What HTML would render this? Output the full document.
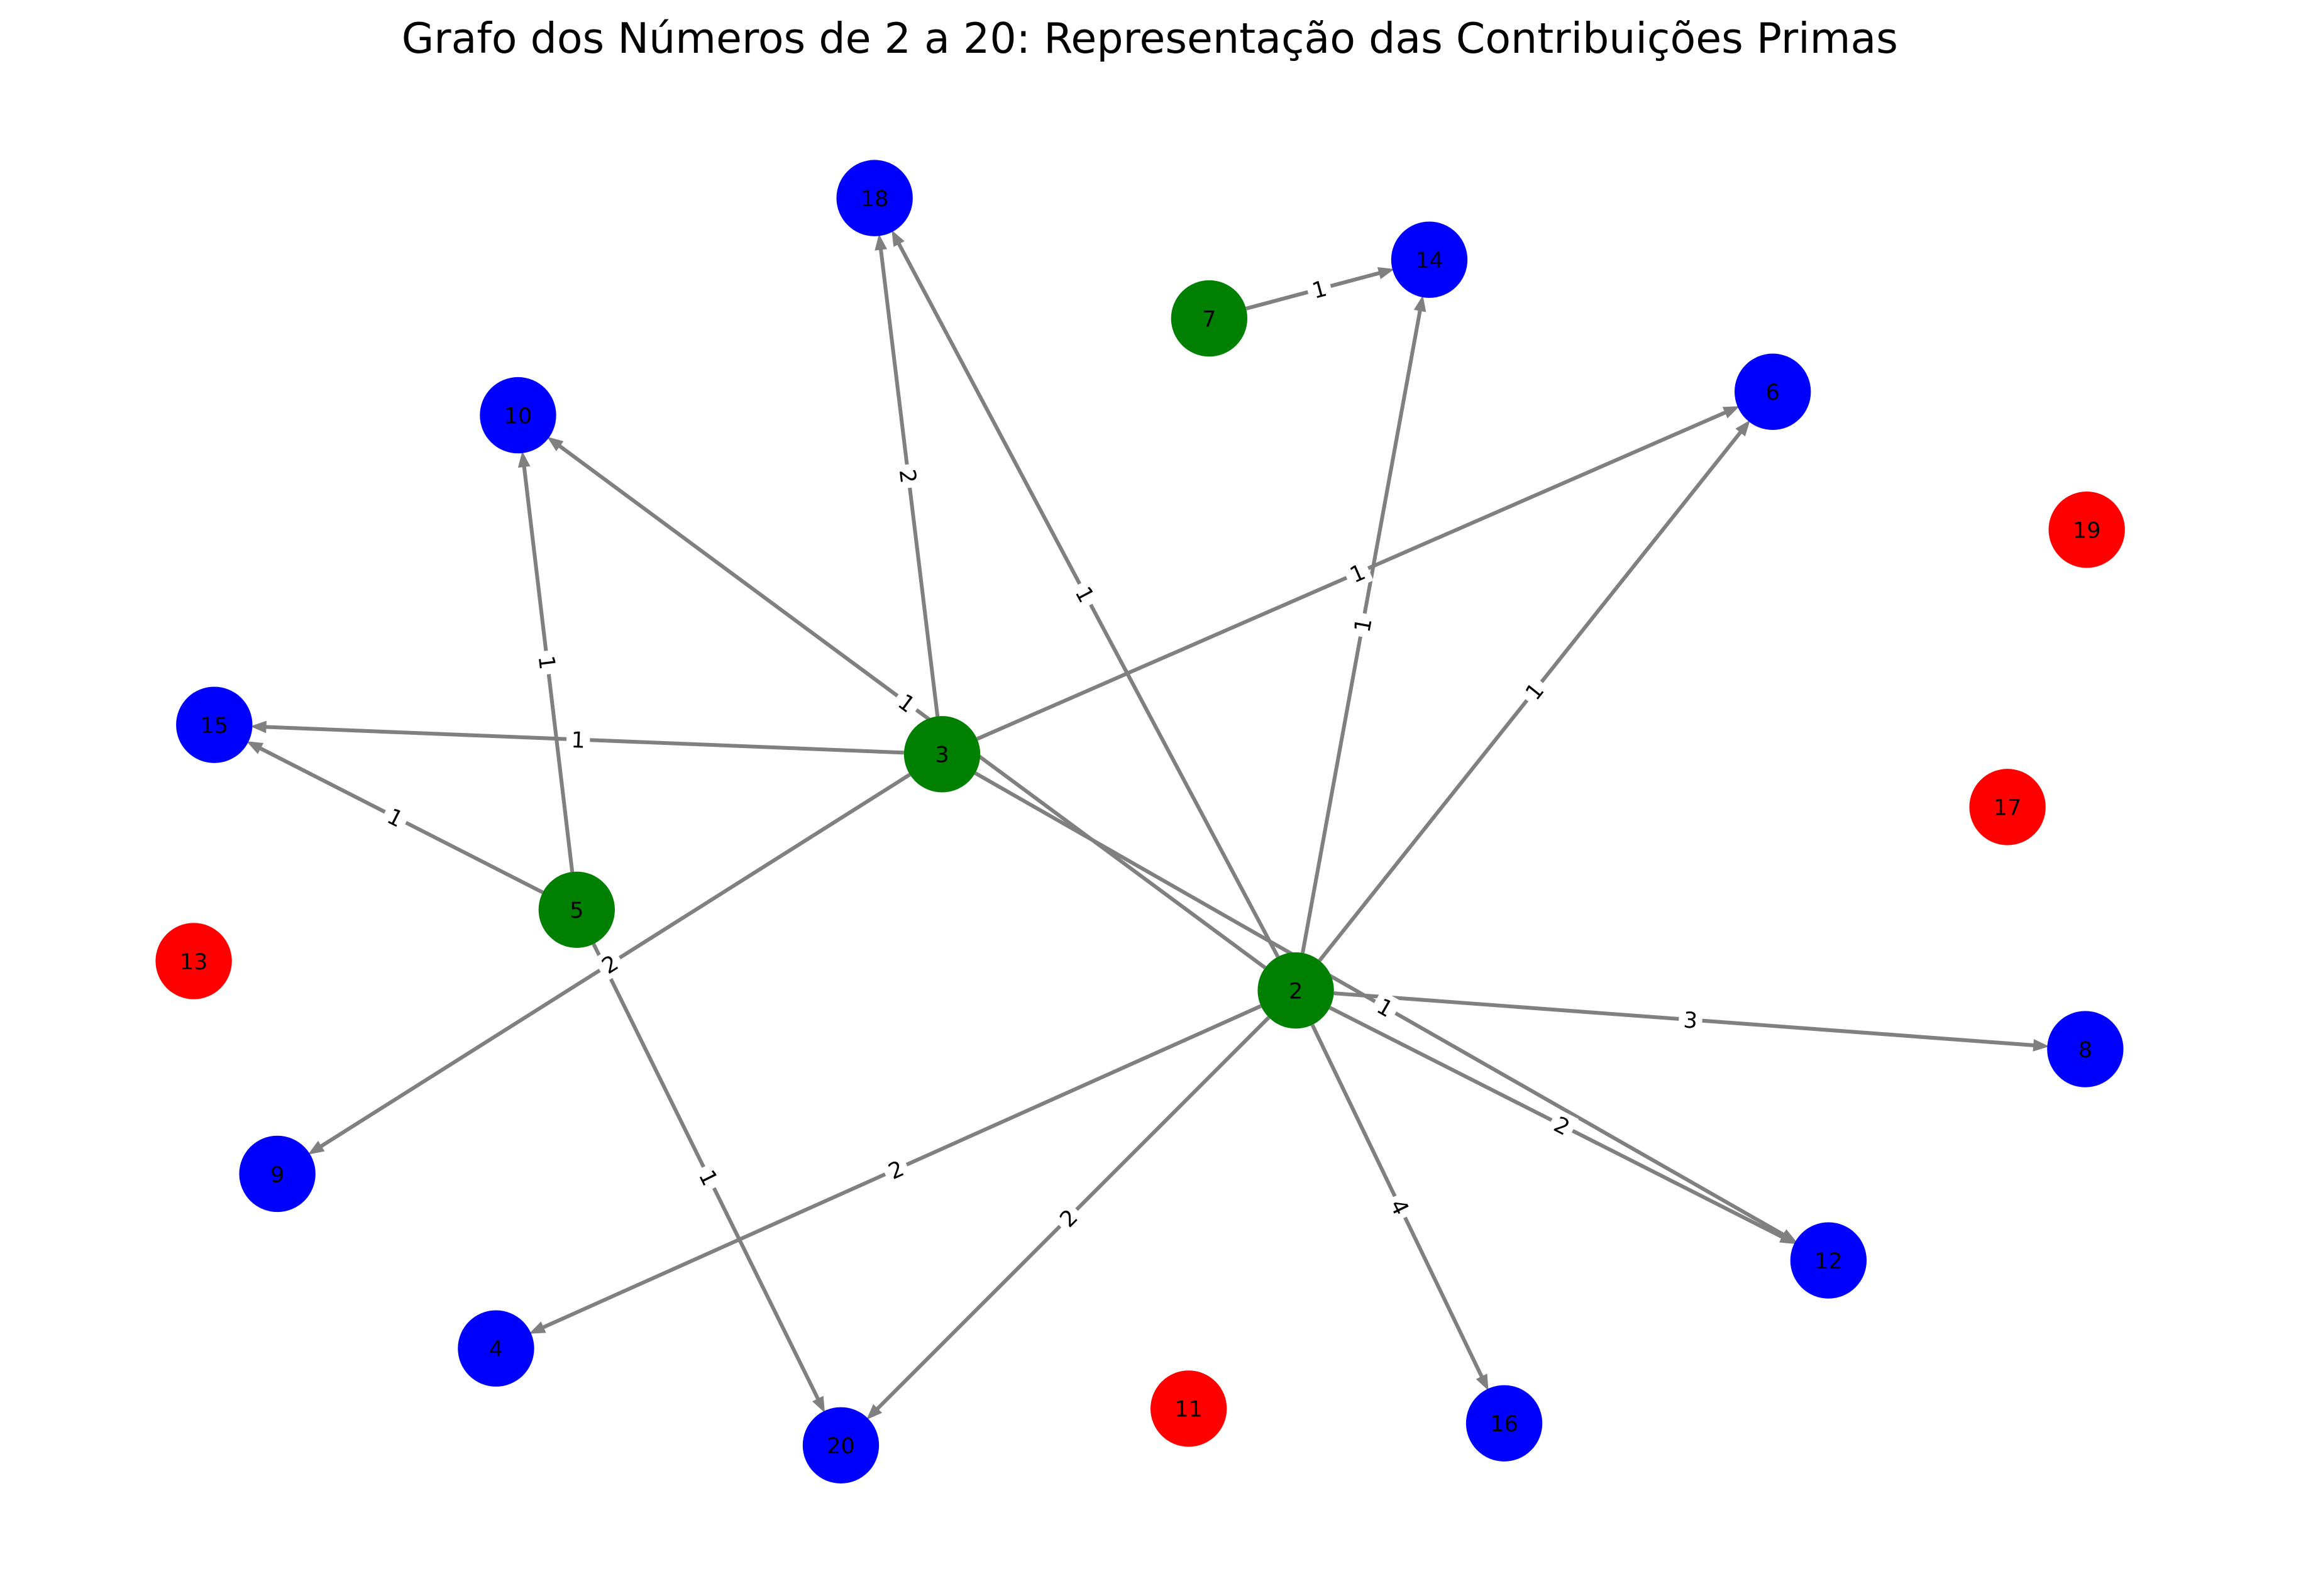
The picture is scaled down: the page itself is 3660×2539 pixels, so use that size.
<!DOCTYPE html>
<html><head><meta charset="utf-8"><style>
html,body{margin:0;padding:0;background:#fff;}
svg{display:block;}
text{font-family:"DejaVu Sans","Liberation Sans",sans-serif;}
</style></head><body>
<svg id="chart" width="3660" height="2539" viewBox="0 0 1568 1087.7" preserveAspectRatio="none" xmlns="http://www.w3.org/2000/svg">
<rect width="1568" height="1087.7" fill="#fff"/>
<text x="783.5" y="36" text-anchor="middle" font-size="28.5" fill="#000">Grafo dos Números de 2 a 20: Representação das Contribuições Primas</text>
<g id="edges"></g>
<g id="nodes"></g>
<g id="labels"></g>
</svg>
<script>
const nodeIds = [2,3,5,7,18,14,10,6,19,15,17,13,8,9,12,4,11,16,20];
const nodeX = [883,642,393,824,596,974,353,1208,1422,146,1368,132,1421,189,1246,338,810,1025,573];
const nodeY = [675,514,620,217,135,177,283,267,361,494,550,655,715,800,859,919,960,970,985];
const nodeKind = ['prime','prime','prime','prime','composite','composite','composite','composite','isolated','composite','isolated','isolated','composite','composite','composite','composite','isolated','composite','composite'];
const edgeFrom = [2,2,2,2,2,2,2,2,2,3,3,3,3,3,5,5,5,7];
const edgeTo   = [4,6,8,10,12,14,16,18,20,6,9,12,15,18,10,15,20,14];
const edgeWeight=[2,1,3,1,2,1,4,1,2,1,2,1,1,2,1,1,1,1];

const NS='http://www.w3.org/2000/svg';
const colors={prime:'#008000',composite:'#0000ff',isolated:'#ff0000'};
const R=26;
const eG=document.getElementById('edges'),nG=document.getElementById('nodes'),lG=document.getElementById('labels');
function pos(id){const i=nodeIds.indexOf(id);return [nodeX[i],nodeY[i]];}
for(let k=0;k<edgeFrom.length;k++){
  const [x1,y1]=pos(edgeFrom[k]),[x2,y2]=pos(edgeTo[k]);
  const dx=x2-x1,dy=y2-y1,L=Math.hypot(dx,dy),ux=dx/L,uy=dy/L;
  const ex=x2-ux*R,ey=y2-uy*R,hl=9,hw=3.5;
  const bx=ex-ux*hl,by=ey-uy*hl;
  const line=document.createElementNS(NS,'line');
  
  
  line.setAttribute('x1',x1+ux*R);line.setAttribute('y1',y1+uy*R);
  line.setAttribute('x2',bx+ux*2);line.setAttribute('y2',by+uy*2);
  line.setAttribute('stroke','#808080');line.setAttribute('stroke-width','2.6');
  eG.appendChild(line);
  const head=document.createElementNS(NS,'polygon');
  
  
  head.setAttribute('points',`${ex},${ey} ${bx-uy*hw},${by+ux*hw} ${bx+uy*hw},${by-ux*hw}`);
  head.setAttribute('fill','#808080');head.setAttribute('stroke','#808080');head.setAttribute('stroke-width','1');
  eG.appendChild(head);
  const mx=(x1+x2)/2,my=(y1+y2)/2;
  let ang=Math.atan2(dy,dx)*180/Math.PI;
  if(ang>90)ang-=180; if(ang<-90)ang+=180;
  const g=document.createElementNS(NS,'g');
  g.setAttribute('transform',`translate(${mx},${my}) rotate(${ang})`);
  
  
  const bg=document.createElementNS(NS,'rect');
  bg.setAttribute('x',-8);bg.setAttribute('y',-9);bg.setAttribute('width',16);bg.setAttribute('height',18);bg.setAttribute('fill','#fff');
  g.appendChild(bg);
  const t=document.createElementNS(NS,'text');
  t.setAttribute('text-anchor','middle');t.setAttribute('y','5.5');t.setAttribute('font-size','15');
  t.textContent=edgeWeight[k];
  g.appendChild(t);
  lG.appendChild(g);
}
for(let i=0;i<nodeIds.length;i++){
  const c=document.createElementNS(NS,'circle');
  
  
  c.setAttribute('cx',nodeX[i]);c.setAttribute('cy',nodeY[i]);c.setAttribute('r',R);
  c.setAttribute('fill',colors[nodeKind[i]]);
  nG.appendChild(c);
  const t=document.createElementNS(NS,'text');
  
  
  t.setAttribute('x',nodeX[i]);t.setAttribute('y',nodeY[i]+5.5);
  t.setAttribute('text-anchor','middle');t.setAttribute('font-size','15');
  t.textContent=nodeIds[i];
  nG.appendChild(t);
}
</script>
</body></html>
